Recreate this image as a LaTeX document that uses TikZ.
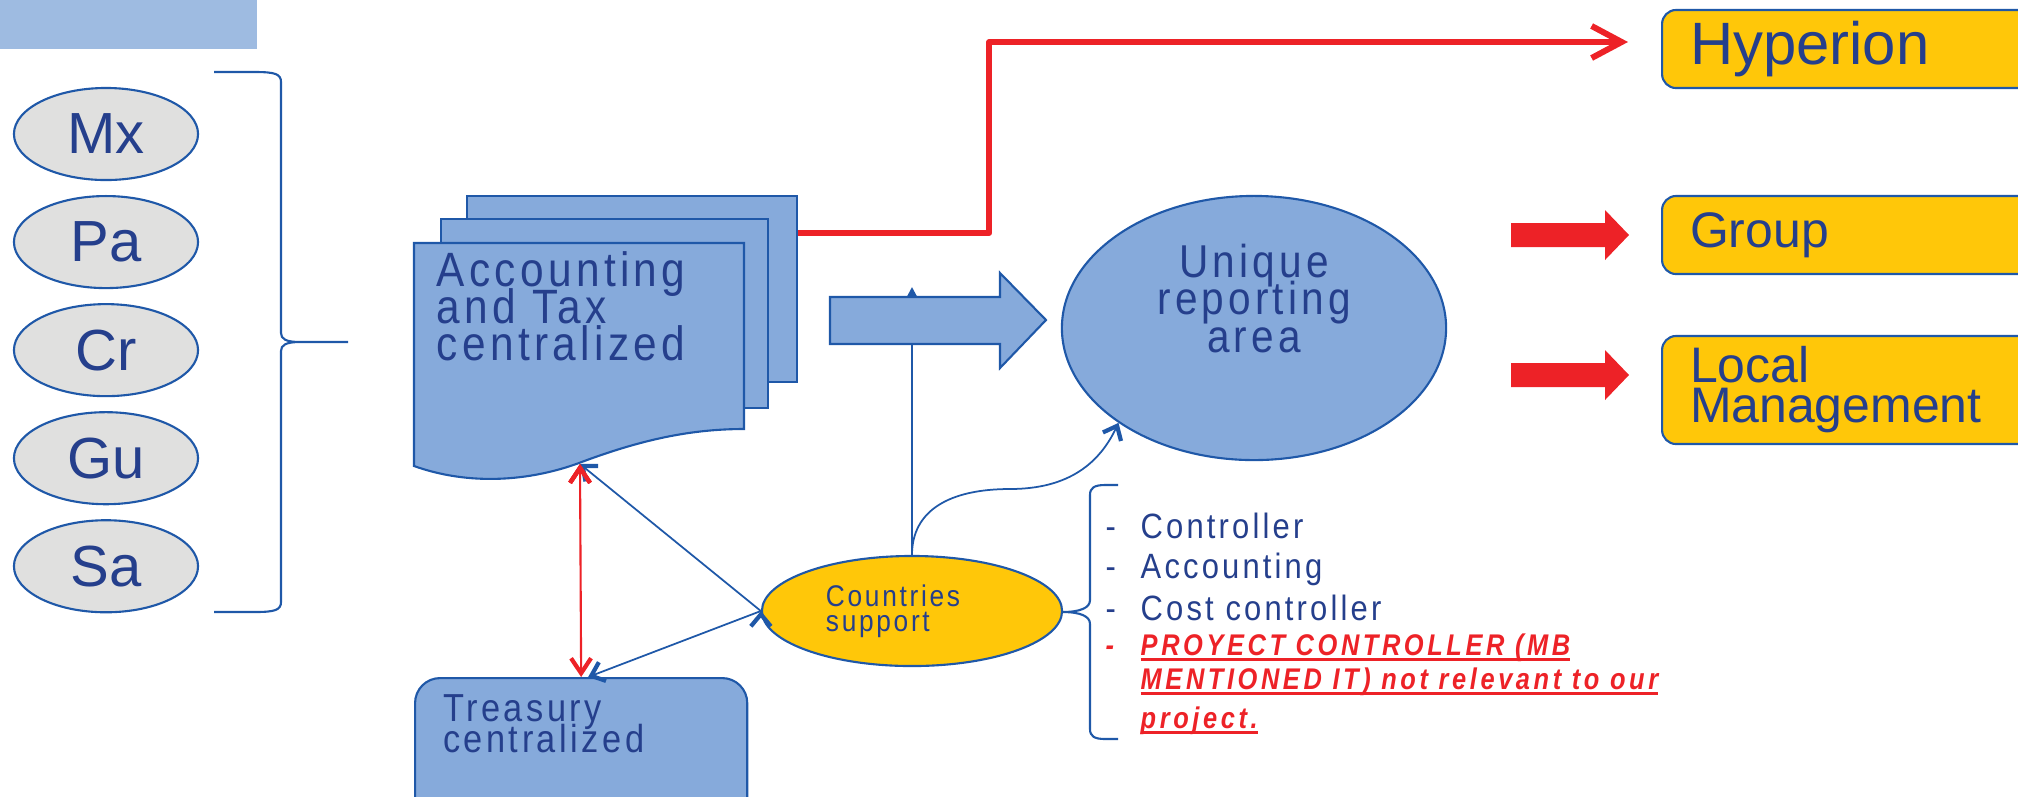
\documentclass[tikz,border=0pt]{standalone}
\usepackage{fontspec}
\setmainfont{Liberation Sans}
\newfontfamily\spacedfont[FakeStretch=0.88,LetterSpace=9]{Liberation Sans}
\newfontfamily\alertfont[FakeStretch=0.85,LetterSpace=12]{Liberation Sans}
\usetikzlibrary{positioning,shapes.geometric,arrows.meta}
\definecolor{lineblue}{HTML}{1F58A8}
\definecolor{fillblue}{HTML}{86AADB}
\definecolor{textblue}{HTML}{253F8C}
\definecolor{gold}{HTML}{FFC709}
\definecolor{alertred}{HTML}{ED2227}
\definecolor{barblue}{HTML}{9EBBE1}
\definecolor{pale}{HTML}{E0E0DF}
\setlength{\lineskiplimit}{-100pt}
\setlength{\normallineskiplimit}{-100pt}
\newcommand{\underred}[1]{\setbox0\hbox{#1}\copy0\llap{\rule[-1.5pt]{\wd0}{0.9pt}}}
\newcommand{\notestyle}{\alertfont\bfseries\itshape\fontsize{8.5}{9}\selectfont\color{alertred}}

\begin{document}
\begin{tikzpicture}[x=0.01cm,y=-0.01cm,node distance=1.08cm,on grid,
    country/.style={ellipse,draw=lineblue,line width=0.6pt,fill=pale,minimum width=1.84cm,minimum height=0.92cm,inner sep=0pt,text=textblue,font=\fontsize{16.5}{18}\selectfont},
    sheet/.style={rectangle,draw=lineblue,line width=0.6pt,fill=fillblue,inner sep=0pt},
    sheetpath/.style={draw=lineblue,line width=0.6pt,fill=fillblue},
    doctext/.style={anchor=north west,inner sep=0pt,align=left,text=textblue,font=\spacedfont\fontsize{13.7}{10.5}\selectfont},
    bubble/.style={ellipse,draw=lineblue,line width=0.6pt,fill=fillblue,minimum width=3.84cm,minimum height=2.64cm,inner sep=0pt,text width=2.4cm,align=center,text depth=1.35cm,text=textblue,font=\spacedfont\fontsize{13.1}{10.7}\selectfont},
    support/.style={ellipse,draw=lineblue,line width=0.6pt,fill=gold,minimum width=3cm,minimum height=1.1cm,inner sep=0pt,text width=1.72cm,align=left,text=textblue,font=\spacedfont\fontsize{8.5}{7.1}\selectfont},
    tbox/.style={rectangle,rounded corners=0.25cm,draw=lineblue,line width=0.6pt,fill=fillblue,anchor=north west,text width=2.76cm,align=left,inner xsep=0.28cm,inner ysep=0.17cm,text depth=1cm,text=textblue,font=\spacedfont\fontsize{11.1}{8.8}\selectfont},
    outbox/.style={rectangle,rounded corners=0.14cm,draw=lineblue,line width=0.6pt,fill=gold,anchor=west,text width=3.4cm,align=left,inner xsep=0.28cm,inner ysep=0pt,text=textblue},
    roles/.style={anchor=north west,inner sep=0pt,align=left,text=textblue,font=\spacedfont\fontsize{10}{11.4}\selectfont},
    bracket/.style={draw=lineblue,line width=0.6pt},
    thinblue/.style={draw=lineblue,line width=0.5pt,-{Straight Barb[length=0.12cm,width=0.2cm,line width=1.2pt]}},
    redpair/.style={draw=alertred,line width=0.6pt,{Straight Barb[length=0.15cm,width=0.2cm,line width=1.2pt]}-{Straight Barb[length=0.15cm,width=0.2cm,line width=1.2pt]}},
    hyperline/.style={draw=alertred,line width=1.7pt,line join=round,-{Straight Barb[length=0.3cm,width=0.32cm,line width=1.7pt]}},
    redblock/.style={fill=alertred}]
\useasboundingbox (0,0) rectangle (2018,796);
\clip (0,0) rectangle (2018,796);
\fill[barblue] (0,0) rectangle (257,49);
\node[country] (c_1) at (106,134) {Mx};
\node[country] (c_2) [below=of c_1] {Pa};
\node[country] (c_3) [below=of c_2] {Cr};
\node[country] (c_4) [below=of c_3] {Gu};
\node[country] (c_5) [below=of c_4] {Sa};
\draw[bracket] (214,72) -- (255,72) .. controls (275,72) and (281,74) .. (281,82) -- (281,333) .. controls (281,339) and (286,342) .. (300,342) -- (348,342)
    -- (300,342) .. controls (286,342) and (281,345) .. (281,351) -- (281,602) .. controls (281,610) and (275,612) .. (255,612) -- (214,612);
\node[sheet,minimum width=3.3cm,minimum height=1.86cm] (d_1) at (632,289) {};
\node[sheet,minimum width=3.27cm,minimum height=1.89cm] (d_2) [below left=0.245cm and 0.275cm of d_1] {};
\filldraw[sheetpath] (414,243) -- (744,243) -- (744,429) .. controls (690,429) and (640,440) .. (579,463) .. controls (530,481) and (470,486) .. (414,466) -- cycle;
\coordinate (wave) at (580,464);
\node[doctext] (a_1) at (436,251) {Accounting\\and Tax\\centralized};
\coordinate (a_top) at (912,287);
\node[support] (s_1) at (912,611) {Countries\\support};
\draw[bracket,-{Triangle[length=0.1cm,width=0.1cm]}] (s_1.north) -- (a_top);
\filldraw[sheetpath] (830,297) -- (1000,297) -- (1000,273) -- (1046,320) -- (1000,368) -- (1000,344) -- (830,344) -- cycle;
\node[bubble] (u_1) at (1254,328) {Unique\\reporting\\area};
\draw[thinblue] (s_1.north) .. controls (912,510) and (950,489) .. (1010,489) .. controls (1070,489) and (1100,462) .. (u_1.215);
\node[tbox] (t_1) at (414,677) {Treasury\\centralized};
\path[thinblue]
    (s_1.west) edge (wave)
    (s_1.west) edge ([xshift=0.07cm]t_1.north);
\path[redpair] (wave) edge (t_1.north);
\draw[bracket] (1118,485) -- (1105,485) .. controls (1094,485) and (1090,488) .. (1090,495) -- (1090,600) .. controls (1090,608) and (1080,612) .. (1062,612)
    .. controls (1080,612) and (1090,616) .. (1090,624) -- (1090,729) .. controls (1090,736) and (1094,739) .. (1105,739) -- (1118,739);
\node[roles] (r_1) at (1105,512) {\makebox[0.35cm][l]{-}Controller\\
    \makebox[0.35cm][l]{-}Accounting\\[0.02cm]
    \makebox[0.35cm][l]{-}Cost controller\\[-0.05cm]
    \makebox[0.35cm][l]{\notestyle -}{\notestyle\underred{PROYECT CONTROLLER (MB}}\\[-0.06cm]
    \hspace*{0.35cm}{\notestyle\underred{MENTIONED IT) not relevant to our}}\\[-0.01cm]
    \hspace*{0.35cm}{\notestyle\underred{project.}}};
\node[outbox,minimum height=0.78cm,font=\fontsize{17}{18}\selectfont] (o_1) at (1661,49) {Hyperion};
\node[outbox,minimum height=0.78cm,font=\fontsize{14.2}{15}\selectfont] (o_2) at (1661,235) {Group};
\node[outbox,minimum height=1.08cm,font=\fontsize{14.2}{11.4}\selectfont] (o_3) at (1661,390) {Local\\Management};
\fill[redblock] (1511,223) -- (1605,223) -- (1605,210) -- (1629,235) -- (1605,260) -- (1605,247) -- (1511,247) -- cycle;
\fill[redblock] (1511,363) -- (1605,363) -- (1605,350) -- (1629,375) -- (1605,400) -- (1605,387) -- (1511,387) -- cycle;
\draw[hyperline] ([yshift=-0.38cm]d_1.north east) -- ++(191,0) |- ([shift={(-0.33cm,0.07cm)}]o_1.west);
\end{tikzpicture}
\end{document}
